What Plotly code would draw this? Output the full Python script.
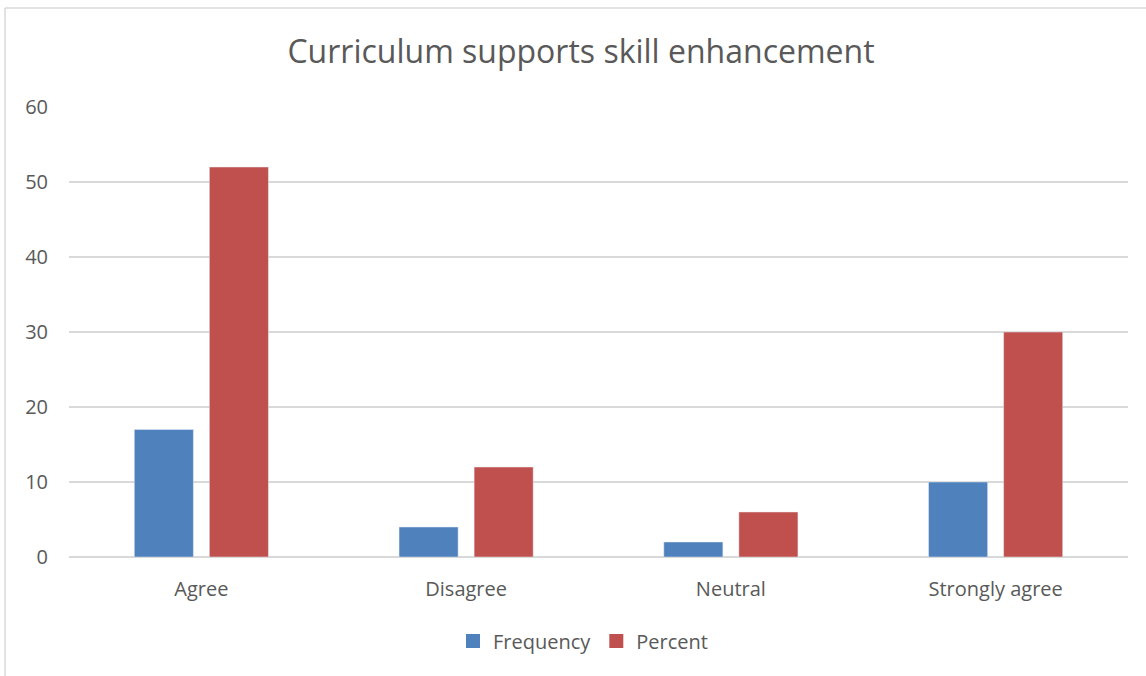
import plotly.graph_objects as go

categories = ["Agree", "Disagree", "Neutral", "Strongly agree"]
frequency = [17, 4, 2, 10]
percent = [52, 12, 6, 30]
y_ticks = [0, 10, 20, 30, 40, 50, 60]
series_names = ["Frequency", "Percent"]
series_colors = ["#4F81BD", "#C0504D"]

W, H = 1146, 676
L, R, T, B = 69, 18, 107, 119
pw = W - L - R
ph = H - T - B

fig = go.Figure()
for name, vals, col in zip(series_names, [frequency, percent], series_colors):
    fig.add_trace(go.Bar(x=categories, y=vals, name=name, marker_color=col, showlegend=False))
for name, col in zip(series_names, series_colors):
    fig.add_trace(go.Scatter(x=[None], y=[None], mode="markers", name=name,
                             marker=dict(symbol="square", size=14, color=col)))

font_family = "Open Sans, Noto Sans, sans-serif"
fig.update_layout(
    width=W, height=H,
    margin=dict(l=L, r=R, t=T, b=B, autoexpand=False),
    paper_bgcolor="white", plot_bgcolor="white",
    barmode="group", bargap=0.433, bargroupgap=0.213,
    title=dict(text="Curriculum supports skill enhancement", x=581 / W, xanchor="center",
               y=1 - 52 / H, yanchor="middle",
               font=dict(family=font_family, size=32, color="#595959")),
    font=dict(family=font_family, size=20, color="#595959"),
    xaxis=dict(showgrid=False, showline=False, ticks="", ticklabelstandoff=18,
               tickangle=0, tickfont=dict(size=20, color="#595959")),
    yaxis=dict(range=[0, 60], tickvals=y_ticks, showgrid=True, gridcolor="#D9D9D9", gridwidth=1.5,
               zeroline=True, zerolinecolor="#D9D9D9", zerolinewidth=1.5, ticks="",
               ticklabelstandoff=20, tickfont=dict(size=20, color="#595959")),
    legend=dict(orientation="h", x=(583 - L) / pw, xanchor="center",
                y=-(641 - 557) / ph, yanchor="middle", itemwidth=30,
                font=dict(size=20, color="#595959")),
    showlegend=True,
)

# Chart border (left and top edges visible)
bx = (5 - L) / pw
by = (H - B - 8) / ph
fig.add_shape(type="line", xref="paper", yref="paper",
              x0=bx, x1=bx, y0=-(B + 10) / ph, y1=by,
              line=dict(color="#D9D9D9", width=1.5))
fig.add_shape(type="line", xref="paper", yref="paper",
              x0=bx, x1=(W + 10 - L) / pw, y0=by, y1=by,
              line=dict(color="#D9D9D9", width=1.5))

fig.write_html("out.html", config={"displayModeBar": False},
               post_script="document.body.style.margin='0px';")
